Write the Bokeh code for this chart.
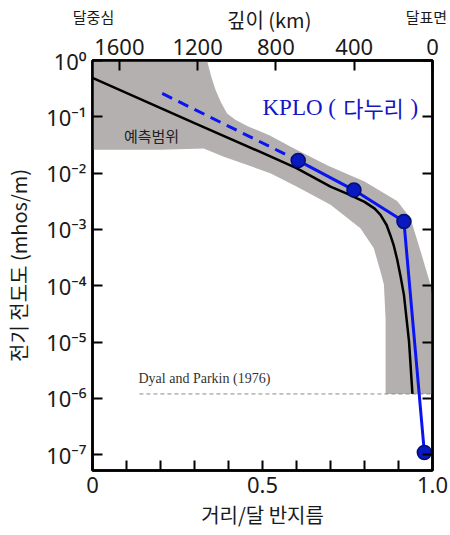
import math
from bokeh.plotting import figure
from bokeh.models import (Range1d, LinearAxis, LogAxis, FixedTicker,
                          CustomJSTickFormatter, Label)
from bokeh.embed import file_html
from bokeh.resources import INLINE

MOON_RADIUS_KM = 1737.0

# Model conductivity profile (black line): r / R_moon, sigma (mhos/m)
model_r = [0.0, 0.3, 0.5, 0.6, 0.7, 0.75, 0.8, 0.83, 0.847, 0.865, 0.876,
           0.886, 0.896, 0.906, 0.916, 0.931, 0.941]
model_sigma = [0.49, 0.0776, 0.0229, 0.0123, 0.00575, 0.00427, 0.00309,
               0.00234, 0.00182, 0.0012, 7.9e-4, 5.2e-4, 2.95e-4, 1.48e-4,
               6.9e-5, 1.02e-5, 1.2e-6]

# Predicted range (grey band)
band_upper_r = [0.0, 0.337, 0.342, 0.35, 0.362, 0.378, 0.396, 0.42, 0.455,
                0.52, 0.59, 0.69, 0.8, 0.896, 0.935, 0.965, 0.994, 1.0, 1.0]
band_upper_sigma = [1.0, 1.0, 0.76, 0.50, 0.30, 0.18, 0.115, 0.089, 0.069,
                    0.047, 0.028, 0.0138, 0.0071, 0.0032, 0.0016, 4.1e-4,
                    1.05e-4, 6.3e-5, 1.2e-6]
band_lower_r = [0.0, 0.2, 0.327, 0.386, 0.523, 0.6, 0.7, 0.788, 0.827,
                0.847, 0.857, 0.862, 0.862]
band_lower_sigma = [0.026, 0.026, 0.0275, 0.0195, 0.010, 0.0058, 0.00275,
                    0.00105, 4.7e-4, 1.8e-4, 1.05e-4, 2.6e-5, 1.2e-6]

# KPLO (Danuri) estimates
kplo_r = [0.605, 0.769, 0.916, 0.976]
kplo_sigma = [0.0167, 0.0050, 0.00138, 1.1e-7]
kplo_ext_r = [0.205, 0.605]
kplo_ext_sigma = [0.26, 0.0167]

# Dyal and Parkin (1976) level
dyal_r = [0.138, 1.0]
dyal_sigma = [1.2e-6, 1.2e-6]

y_ticks = [1e-7, 1e-6, 1e-5, 1e-4, 1e-3, 1e-2, 1e-1, 1.0]
x_ticks = [0.0, 0.1, 0.2, 0.3, 0.4, 0.5, 0.6, 0.7, 0.8, 0.9, 1.0]
depth_ticks = [1600, 1200, 800, 400, 0]
end_label_ticks = [0.003, 0.982]          # 달중심 / 달표면 label positions

KR = "Noto Sans CJK KR"
SERIF = "Liberation Serif"
NUM = "Noto Sans"
TXT = "#1a1a1a"
BLUE = "#0a14f0"

p = figure(width=450, height=535, output_backend="svg", toolbar_location=None,
           x_range=Range1d(0, 1), y_range=Range1d(10 ** -7.28, 1.0),
           y_axis_type="log", x_axis_type=None, y_axis_location=None,
           min_border_left=92, min_border_right=18, min_border_top=60,
           min_border_bottom=65)
p.grid.visible = False
p.outline_line_color = "black"
p.outline_line_width = 2.5
p.background_fill_color = "white"
p.border_fill_color = "white"

def X(px):
    return (px - 92) / 340.0

def Y(py):
    return 10 ** (-(py - 59.0) / 56.3)

log_fmt = CustomJSTickFormatter(code="""
const e = Math.round(Math.log10(tick));
const sup = {"0":"\u2070","1":"\u00b9","2":"\u00b2","3":"\u00b3","4":"\u2074",
             "5":"\u2075","6":"\u2076","7":"\u2077","8":"\u2078","9":"\u2079","-":"\u207b"};
return "10" + String(e).split("").map(c => sup[c]).join("");
""")
blank_fmt = CustomJSTickFormatter(code="return '';")
x_fmt = CustomJSTickFormatter(code="""
if (Math.abs(tick) < 1e-9) return "0";
if (Math.abs(tick - 0.5) < 1e-9) return "0.5";
if (Math.abs(tick - 1.0) < 1e-9) return "1.0";
return "";
""")
end_fmt = CustomJSTickFormatter(code="return tick < 0.5 ? '달중심' : '달표면';")

def style_axis(ax, font_size="22px"):
    ax.axis_line_color = "black"
    ax.axis_line_width = 2.5
    ax.major_tick_in = 10
    ax.major_tick_out = 0
    ax.major_tick_line_width = 2
    ax.major_tick_line_color = "black"
    ax.minor_tick_line_color = None
    ax.major_label_text_font = NUM
    ax.major_label_text_font_size = font_size
    ax.major_label_text_color = TXT
    ax.major_label_standoff = 6
    ax.axis_label_text_font = KR
    ax.axis_label_text_font_size = "20px"
    ax.axis_label_text_font_style = "normal"
    ax.axis_label_text_color = TXT

left = LogAxis(ticker=FixedTicker(ticks=y_ticks), formatter=log_fmt,
               axis_label="전기 전도도 (mhos/m)")
style_axis(left)
left.axis_label_standoff = 10
p.add_layout(left, "left")

right = LogAxis(ticker=FixedTicker(ticks=y_ticks), formatter=blank_fmt)
style_axis(right)
right.major_label_text_font_size = "1px"
p.add_layout(right, "right")

bottom = LinearAxis(ticker=FixedTicker(ticks=x_ticks), formatter=x_fmt,
                    axis_label="거리/달 반지름")
style_axis(bottom)
bottom.axis_label_standoff = 4
p.add_layout(bottom, "below")

p.extra_x_ranges = {"depth": Range1d(MOON_RADIUS_KM, 0)}
top = LinearAxis(x_range_name="depth", ticker=FixedTicker(ticks=depth_ticks))
style_axis(top)
p.add_layout(top, "above")

# outer top row: 달중심 / 깊이 (km) / 달표면
top2 = LinearAxis(ticker=FixedTicker(ticks=end_label_ticks), formatter=end_fmt,
                  axis_label="\u00a0\u00a0\u00a0깊이 (km)")
style_axis(top2)
top2.axis_line_color = None
top2.major_tick_line_color = None
top2.major_tick_in = 0
top2.major_label_standoff = 9
top2.major_label_text_font = KR
top2.major_label_text_font_size = "15px"
top2.axis_label_standoff = -31
p.add_layout(top2, "above")

# grey band
band_x = band_upper_r + band_lower_r[::-1]
band_y = band_upper_sigma + band_lower_sigma[::-1]
p.patch(band_x, band_y, fill_color="#b4b0b0", line_color=None)

# Dyal and Parkin reference level
p.line(dyal_r, dyal_sigma, line_color="#8a8a8a", line_width=1, line_dash="4 3")

# model
p.line(model_r, model_sigma, line_color="black", line_width=2.5)

# KPLO
p.line(kplo_ext_r, kplo_ext_sigma, line_color=BLUE, line_width=3, line_dash="11 7")
p.line(kplo_r, kplo_sigma, line_color=BLUE, line_width=3)
p.scatter(kplo_r, kplo_sigma, size=14, fill_color="#0a18c0",
          line_color="#001070", line_width=1.5)

def add_label(text, x, y, font, size, align="left", baseline="middle",
              color=TXT, angle=0.0, **kw):
    p.add_layout(Label(x=x, y=y, text=text, text_font=font, text_font_size=size,
                       text_align=align, text_baseline=baseline,
                       text_color=color, angle=angle, **kw))

# in-plot texts
add_label("KPLO (", X(262), Y(106), SERIF, "23px", align="left", color="#1414c8")
add_label("다누리", X(373), Y(105), KR, "22px", align="center", color="#1414c8")
add_label(")", X(410), Y(106), SERIF, "23px", align="left", color="#1414c8")
add_label("예측범위", X(151), Y(134), KR, "15px", align="center", color="#222222")
add_label("Dyal and Parkin (1976)", X(138), Y(377), SERIF, "14px", align="left",
          color="#333333")

open("out.html", "w").write(file_html(p, INLINE))
